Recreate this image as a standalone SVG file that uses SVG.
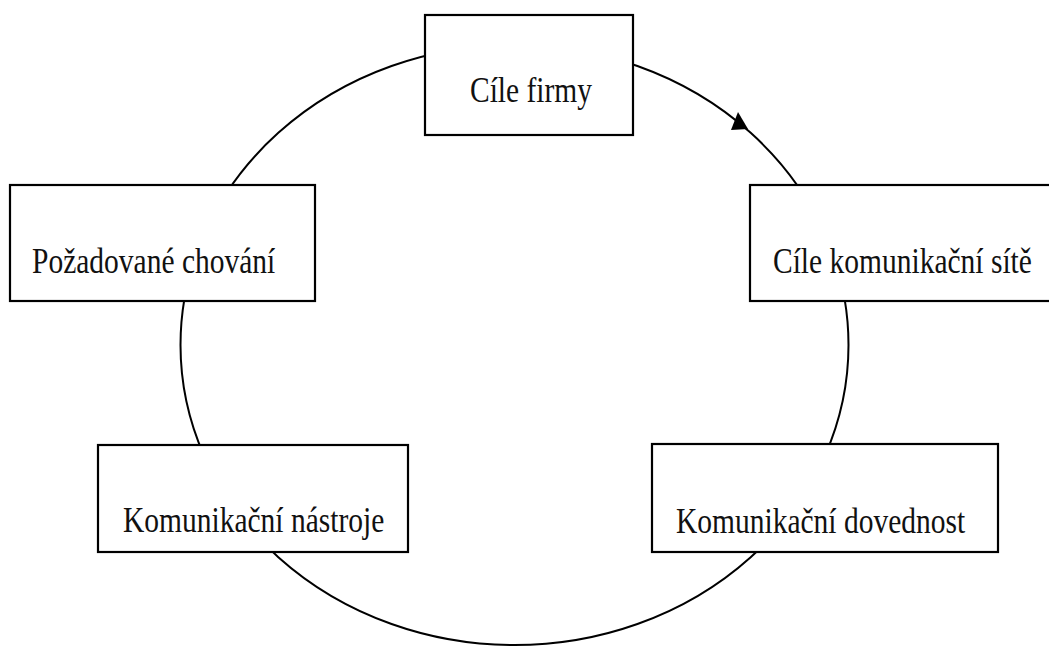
<svg xmlns="http://www.w3.org/2000/svg" width="1049" height="646" viewBox="0 0 1049 646">
<style>
.box{fill:#fff;stroke:#000;stroke-width:2.2}
.lbl{font-family:"Liberation Serif","Times New Roman",serif;font-size:29.5px;fill:#111}
.edge{fill:none;stroke:#000;stroke-width:2}
</style>
<rect width="1049" height="646" fill="#fff"/>
<g id="connectors">
<ellipse class="edge" cx="514.5" cy="345" rx="334" ry="300"/>
<polygon points="738,112 731,130 748,129" fill="#000"/>
</g>
<g id="n1"><rect class="box" x="425" y="15" width="208" height="120"/><text class="lbl" transform="translate(470,102) scale(1,1.2)">Cíle firmy</text></g>
<g id="n2"><rect class="box" x="10" y="185" width="305" height="116"/><text class="lbl" transform="translate(32,273) scale(1,1.2)">Požadované chování</text></g>
<g id="n3"><rect class="box" x="750" y="185" width="310" height="116"/><text class="lbl" transform="translate(773,273) scale(1,1.2)">Cíle komunikační sítě</text></g>
<g id="n4"><rect class="box" x="98" y="445" width="310" height="107"/><text class="lbl" transform="translate(123,532) scale(1,1.2)">Komunikační nástroje</text></g>
<g id="n5"><rect class="box" x="652" y="444" width="346" height="108"/><text class="lbl" transform="translate(676,533) scale(1,1.2)">Komunikační dovednost</text></g>
</svg>
